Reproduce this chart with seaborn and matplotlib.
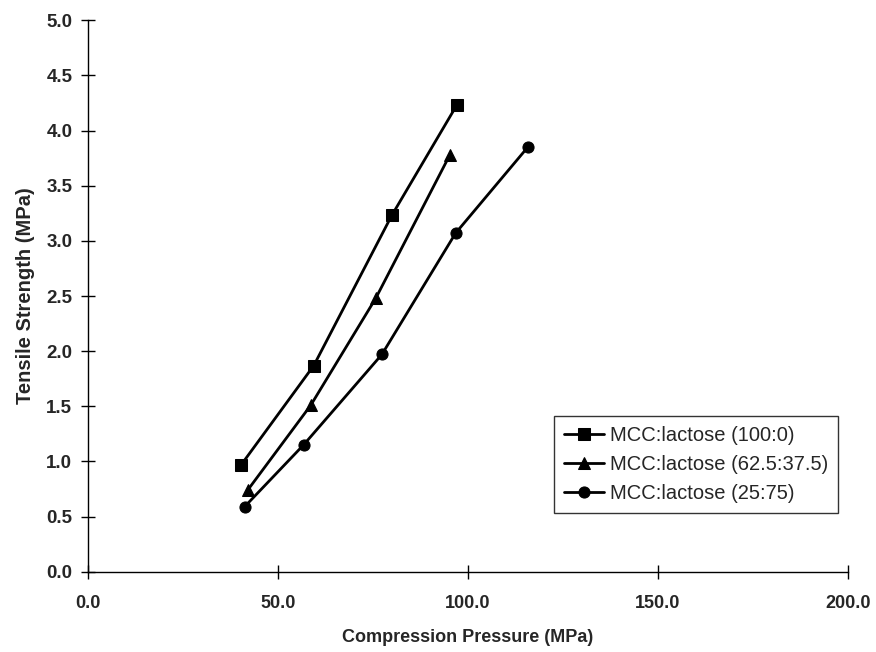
import pandas as pd
import numpy as np
import seaborn as sns
import matplotlib.pyplot as plt

# data
labels = ["MCC:lactose (100:0)", "MCC:lactose (62.5:37.5)", "MCC:lactose (25:75)"]

press_100 = [40.4, 59.5, 80.0, 97.1]
ts_100 = [0.97, 1.87, 3.23, 4.23]

press_625 = [42.1, 58.7, 75.8, 95.3]
ts_625 = [0.74, 1.51, 2.48, 3.78]

press_25 = [41.3, 56.8, 77.4, 96.8, 115.8]
ts_25 = [0.59, 1.15, 1.97, 3.07, 3.85]

df = pd.concat([
    pd.DataFrame({"x": press_100, "y": ts_100, "series": labels[0]}),
    pd.DataFrame({"x": press_625, "y": ts_625, "series": labels[1]}),
    pd.DataFrame({"x": press_25, "y": ts_25, "series": labels[2]}),
])

sns.set_theme(style="white")
plt.rcParams['font.family'] = ['Liberation Sans', 'DejaVu Sans']

fig = plt.figure(figsize=(8.76, 6.52), dpi=100)
ax = fig.add_axes([0.1, 0.123, 0.868, 0.846])

sns.lineplot(data=df, x="x", y="y", hue="series", style="series",
             markers={labels[0]: "s", labels[1]: "^", labels[2]: "o"},
             dashes=False, palette=["black"] * 3, markersize=8,
             linewidth=2, markeredgecolor="black", ax=ax)

ax.set_xlim(0, 200)
ax.set_ylim(0, 5)
ax.set_xticks(np.arange(0, 201, 50))
ax.set_yticks(np.arange(0, 5.01, 0.5))
ax.set_xticklabels([f"{v:.1f}" for v in np.arange(0, 201, 50)],
                   fontsize=13, fontweight="bold")
ax.set_yticklabels([f"{v:.1f}" for v in np.arange(0, 5.01, 0.5)],
                   fontsize=13.5, fontweight="bold")
ax.tick_params(bottom=True, left=True, direction="inout", length=10,
               width=1, color="black", pad=6)
ax.tick_params(axis="x", pad=12)

for s in ["top", "right"]:
    ax.spines[s].set_visible(False)
for s in ["left", "bottom"]:
    ax.spines[s].set_color("black")
    ax.spines[s].set_linewidth(1)

ax.set_xlabel("Compression Pressure (MPa)", fontsize=13, fontweight="bold", labelpad=12)
ax.set_ylabel("Tensile Strength (MPa)", fontsize=14.5, fontweight="bold", labelpad=8)

leg = ax.legend(loc="upper left", bbox_to_anchor=(0.613, 0.283), borderaxespad=0,
                fontsize=14.5, frameon=True, fancybox=False, edgecolor="black",
                handlelength=2.0, borderpad=0.5, labelspacing=0.5, handletextpad=0.3)
leg.get_frame().set_linewidth(1)

fig.savefig("out.png", dpi=100)
